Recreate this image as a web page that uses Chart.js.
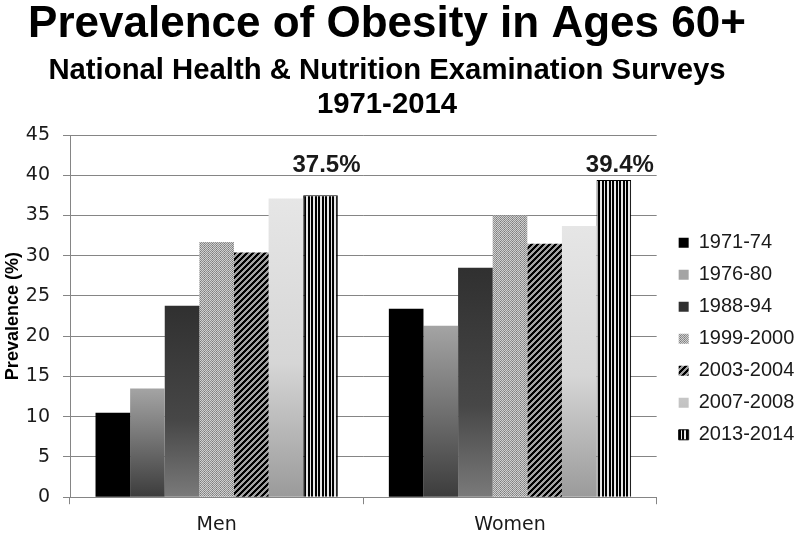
<!DOCTYPE html>
<html>
<head>
<meta charset="utf-8">
<script src="https://cdn.jsdelivr.net/npm/chart.js@4.4.1/dist/chart.umd.min.js"></script>
<style>
  html, body { margin: 0; padding: 0; background: #ffffff; }
  #wrap { width: 800px; height: 545px; position: relative; }
</style>
</head>
<body>
<div id="wrap"><canvas id="c" width="800" height="545"></canvas></div>
<script>
// ---- data ----
const categories = ['Men', 'Women'];
const seriesLabels = ['1971-74', '1976-80', '1988-94', '1999-2000', '2003-2004', '2007-2008', '2013-2014'];
const v1971_74 = [10.5, 23.4];
const v1976_80 = [13.5, 21.3];
const v1988_94 = [23.8, 28.5];
const v1999_2000 = [31.7, 35.0];
const v2003_2004 = [30.4, 31.5];
const v2007_2008 = [37.1, 33.7];
const v2013_2014 = [37.5, 39.4];
const yMin = 0, yMax = 45, yStep = 5;
const titleText = 'Prevalence of Obesity in Ages 60+';
const subtitleLines = ['National Health & Nutrition Examination Surveys', '1971-2014'];
const yTitle = 'Prevalence (%)';

// ---- fills ----
function makeTile(w, h, painter) {
  const c = document.createElement('canvas');
  c.width = w; c.height = h;
  const g = c.getContext('2d');
  painter(g);
  return c;
}
const pctx = document.createElement('canvas').getContext('2d');
const dottedPattern = pctx.createPattern(makeTile(4, 4, g => {
  for (let x = 0; x < 4; x++) for (let y = 0; y < 4; y++) {
    g.fillStyle = ((x + y) % 2 === 0) ? '#cfcfcf' : (x % 4 === 0 ? '#7a7a7a' : '#8f8f8f');
    g.fillRect(x, y, 1, 1);
  }
}), 'repeat');
const diagPattern = pctx.createPattern(makeTile(6, 6, g => {
  for (let x = 0; x < 6; x++) for (let y = 0; y < 6; y++) {
    g.fillStyle = ((x + y) % 6) < 3 ? '#000000' : '#a0a0a0';
    g.fillRect(x, y, 1, 1);
  }
}), 'repeat');
const vstripePattern = pctx.createPattern(makeTile(7, 2, g => {
  const cols = ['#000', '#000', '#e8e8e8', '#000', '#000', '#e8e8e8', '#e8e8e8'];
  cols.forEach((c, i) => { g.fillStyle = c; g.fillRect(i, 0, 1, 2); });
}), 'repeat');

function barGradient(stops, legendColor) {
  return (ctx) => {
    if (ctx.type !== 'data') return legendColor;
    const chart = ctx.chart;
    const ys = chart.scales && chart.scales.y;
    if (!ys || !chart.chartArea || typeof ctx.raw !== 'number') return legendColor;
    const top = ys.getPixelForValue(ctx.raw);
    const bot = ys.getPixelForValue(0);
    if (!isFinite(top) || !isFinite(bot) || bot - top < 1) return legendColor;
    const gr = chart.ctx.createLinearGradient(0, top, 0, bot);
    stops.forEach(s => gr.addColorStop(s[0], s[1]));
    return gr;
  };
}

// ---- data labels for last series ----
const valueLabelPlugin = {
  id: 'valueLabels',
  afterDatasetsDraw(chart) {
    const last = chart.data.datasets.length - 1;
    const meta = chart.getDatasetMeta(last);
    const ys = chart.scales.y;
    const c = chart.ctx;
    c.save();
    c.font = 'bold 24px "Liberation Sans", Arial, sans-serif';
    c.fillStyle = '#1a1a1a';
    c.textAlign = 'center';
    c.textBaseline = 'alphabetic';
    meta.data.forEach((el, i) => {
      const v = chart.data.datasets[last].data[i];
      c.fillText(v.toFixed(1) + '%', el.x + 6, ys.getPixelForValue(40.4));
    });
    c.restore();
  }
};

// centre the title block slightly left of the canvas centre, as in the reference
const titleShiftPlugin = {
  id: 'titleShift',
  afterLayout(chart) {
    chart.boxes.forEach(b => {
      if (b.position === 'top' && b.options && b.options.text !== undefined && b.options.labels === undefined) {
        b.left = 0; b.right = 774; b.width = 774;
      }
    });
  }
};

const gridGray = '#858585';
const tickFont = { family: '"DejaVu Sans", sans-serif', size: 19 };

new Chart(document.getElementById('c'), {
  type: 'bar',
  data: {
    labels: categories,
    datasets: [
      { label: seriesLabels[0], data: v1971_74, backgroundColor: '#000000', borderWidth: 0 },
      { label: seriesLabels[1], data: v1976_80, backgroundColor: barGradient([[0, '#a4a4a4'], [1, '#3c3c3c']], '#7a7a7a'), borderWidth: 0 },
      { label: seriesLabels[2], data: v1988_94, backgroundColor: barGradient([[0, '#303030'], [0.6, '#474747'], [1, '#7a7a7a']], '#4a4a4a'), borderWidth: 0 },
      { label: seriesLabels[3], data: v1999_2000, backgroundColor: dottedPattern, borderWidth: 0 },
      { label: seriesLabels[4], data: v2003_2004, backgroundColor: diagPattern, borderWidth: 0 },
      { label: seriesLabels[5], data: v2007_2008, backgroundColor: barGradient([[0, '#e6e6e6'], [0.55, '#d6d6d6'], [1, '#9a9a9a']], '#d0d0d0'), borderWidth: 0 },
      { label: seriesLabels[6], data: v2013_2014, backgroundColor: vstripePattern, borderColor: '#000000', borderWidth: 1 }
    ]
  },
  options: {
    responsive: false,
    animation: false,
    devicePixelRatio: 1,
    layout: { padding: { left: 0, right: 0, top: 0, bottom: 0 } },
    datasets: { bar: { categoryPercentage: 0.826, barPercentage: 1.0 } },
    plugins: {
      title: {
        display: true, text: titleText, color: '#000',
        font: { family: '"Liberation Sans", Arial, sans-serif', size: 44, weight: 'bold', lineHeight: 1.0 },
        padding: { top: 3, bottom: 0 }
      },
      subtitle: {
        display: true, text: subtitleLines, color: '#000',
        font: { family: '"Liberation Sans", Arial, sans-serif', size: 29.3, weight: 'bold', lineHeight: 34 / 29.3 },
        padding: { top: 7, bottom: 13 }
      },
      legend: {
        display: true, position: 'right', align: 'center', fullSize: false,
        title: { display: true, text: ' ', font: { size: 2 }, padding: { top: 22, bottom: 21 } },
        labels: {
          boxWidth: 10, boxHeight: 10, padding: 12, color: '#1a1a1a',
          font: { family: '"Liberation Sans", Arial, sans-serif', size: 20 }
        }
      },
      tooltip: { enabled: false }
    },
    scales: {
      x: {
        offset: true,
        grid: {
          display: true, offset: true, drawOnChartArea: true,
          color: (c) => (c.index === categories.length ? gridGray : 'rgba(0,0,0,0)'),
          tickColor: gridGray, tickLength: 7, lineWidth: 1
        },
        border: { display: true, color: gridGray, width: 1 },
        ticks: { color: '#1a1a1a', font: tickFont, padding: 9 }
      },
      y: {
        min: yMin, max: yMax,
        ticks: { stepSize: yStep, color: '#1a1a1a', font: tickFont, padding: 13 },
        grid: { color: gridGray, tickColor: gridGray, tickLength: 7, lineWidth: 1 },
        border: { display: true, color: gridGray, width: 1 },
        title: {
          display: true, text: yTitle, color: '#000',
          font: { family: '"Liberation Sans", Arial, sans-serif', size: 18, weight: 'bold', lineHeight: 1.2 },
          padding: { top: 2, bottom: 0 }
        },
        afterFit(s) { s.width = 70; }
      },
      ygap: {
        position: 'right', display: true,
        grid: { display: false }, ticks: { display: false }, border: { display: false },
        afterFit(s) { s.width = 10; }
      }
    }
  },
  plugins: [valueLabelPlugin, titleShiftPlugin]
});
</script>
</body>
</html>
